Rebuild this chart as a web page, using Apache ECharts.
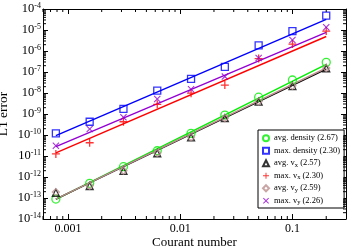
<!DOCTYPE html>
<html>
<head>
<meta charset="utf-8">
<script src="https://cdn.jsdelivr.net/npm/echarts@6/dist/echarts.min.js"></script>
<style>html,body{margin:0;padding:0;background:#fff}#c{width:349px;height:249px}</style>
</head>
<body>
<div id="c"></div>
<script>
// Courant numbers of the runs
const courant = [0.00078125, 0.0015625, 0.003125, 0.00625, 0.0125, 0.025, 0.05, 0.1, 0.2];
// L1 errors
const avgDensity = [8.91e-14, 5.01e-13, 3.09e-12, 1.78e-11, 1.20e-10, 8.91e-10, 6.31e-9, 4.17e-8, 2.88e-7];
const maxDensity = [1.20e-10, 4.27e-10, 1.74e-9, 1.29e-8, 4.68e-8, 1.74e-7, 1.86e-6, 8.91e-6, 4.79e-5];
const avgVx      = [1.78e-13, 3.72e-13, 1.95e-12, 1.35e-11, 7.76e-11, 6.31e-10, 3.89e-9, 2.14e-8, 1.51e-7];
const maxVx      = [1.26e-11, 4.27e-11, 4.27e-10, 2.88e-9, 9.77e-9, 2.40e-8, 4.37e-7, 2.14e-6, 8.91e-6];
const avgVy      = [1.91e-13, 3.80e-13, 2.00e-12, 1.38e-11, 7.94e-11, 6.46e-10, 3.98e-9, 2.19e-8, 1.55e-7];
const maxVy      = [3.09e-11, 1.95e-10, 6.92e-10, 5.13e-9, 1.51e-8, 6.03e-8, 4.68e-7, 3.31e-6, 1.35e-5];
// fitted lines (end points)
const fitX          = [0.00078125, 0.2];
const fitAvgDensity = [8.51e-14, 2.29e-7];
const fitMaxDensity = [9.33e-11, 3.24e-5];
const fitAvgVx      = [8.91e-14, 1.38e-7];
const fitMaxVx      = [1.41e-11, 4.90e-6];
const fitAvgVy      = [8.91e-14, 1.55e-7];
const fitMaxVy      = [2.82e-11, 7.76e-6];
// series names
const names = ['avg. density (2.67)', 'max. density (2.30)', 'avg. v_x (2.57)', 'max. v_x (2.30)', 'avg. v_y (2.59)', 'max. v_y (2.26)'];
// axis ticks
const xTickLabels = ['0.001', '0.01', '0.1'];
const xMinorTicks = [0.0006,0.0007,0.0008,0.0009,0.002,0.003,0.004,0.005,0.006,0.007,0.008,0.009,0.02,0.03,0.04,0.05,0.06,0.07,0.08,0.09,0.2];
const yMinorTicks = [];
const yDecades = [-14,-13,-12,-11,-10,-9,-8,-7,-6,-5];
yDecades.forEach(function(d){ [2,3,4,5,6,7,8,9].forEach(function(m){ yMinorTicks.push(m * Math.pow(10, d)); }); });

const FONT = '"Liberation Serif", "DejaVu Serif", serif';
const XMIN = 0.0006, XMAX = 0.3, YMIN = 1e-14, YMAX = 1e-4;

function pts(xs, ys){ return xs.map(function(x,i){ return [x, ys[i]]; }); }

const colors = ['#00ee00', '#0000ff', '#000000', '#ff0000', '#bc8f8f', '#9400d3'];
const PLUS = 'path://M4.2,0H5.8V4.2H10V5.8H5.8V10H4.2V5.8H0V4.2H4.2Z';
const CROSS = 'path://M1.1,0L5,3.9L8.9,0L10,1.1L6.1,5L10,8.9L8.9,10L5,6.1L1.1,10L0,8.9L3.9,5L0,1.1Z';
const markerData = [avgDensity, maxDensity, avgVx, maxVx, avgVy, maxVy];
const fitData = [fitAvgDensity, fitMaxDensity, fitAvgVx, fitMaxVx, fitAvgVy, fitMaxVy];
const symbols = ['circle', 'rect', 'triangle', PLUS, 'diamond', CROSS];
const sizes = [8, 7, 7, 8, 7, 7];
const hollow = [true, true, true, false, true, false];

const series = [];
// fit lines
fitData.forEach(function(f, i){
  series.push({
    type: 'line', name: 'fit ' + names[i], data: pts(fitX, f), showSymbol: false, symbol: 'none',
    lineStyle: { color: colors[i], width: 1.4 }, silent: true, animation: false, z: 2
  });
});
// markers
markerData.forEach(function(d, i){
  series.push({
    type: 'scatter', name: names[i], data: pts(courant, d), symbol: symbols[i], symbolSize: sizes[i],
    itemStyle: hollow[i] ? { color: 'rgba(0,0,0,0)', borderColor: colors[i], borderWidth: 1.3 } : { color: colors[i] },
    animation: false, z: 3
  });
});
// minor ticks (log 2..9)
series.push({
  type: 'custom', name: 'xminor', silent: true, animation: false, z: 5,
  data: xMinorTicks.map(function(v){ return [v, YMIN]; }),
  clip: false,
  renderItem: function(params, api){
    const b = api.coord([api.value(0), YMIN]);
    const t = api.coord([api.value(0), YMAX]);
    return { type: 'group', children: [
      { type: 'line', shape: { x1: b[0], y1: b[1], x2: b[0], y2: b[1] - 3 }, style: { stroke: '#000', lineWidth: 1 } },
      { type: 'line', shape: { x1: t[0], y1: t[1], x2: t[0], y2: t[1] + 3 }, style: { stroke: '#000', lineWidth: 1 } }
    ]};
  }
});
series.push({
  type: 'custom', name: 'yminor', silent: true, animation: false, z: 5,
  data: yMinorTicks.map(function(v){ return [XMIN, v]; }),
  clip: false,
  renderItem: function(params, api){
    const l = api.coord([XMIN, api.value(1)]);
    const r = api.coord([XMAX, api.value(1)]);
    return { type: 'group', children: [
      { type: 'line', shape: { x1: l[0], y1: l[1], x2: l[0] + 3, y2: l[1] }, style: { stroke: '#000', lineWidth: 1 } },
      { type: 'line', shape: { x1: r[0], y1: r[1], x2: r[0] - 3, y2: r[1] }, style: { stroke: '#000', lineWidth: 1 } }
    ]};
  }
});

const axisLine = { show: true, onZero: false, lineStyle: { color: '#000', width: 1 } };
const axisTick = { show: true, inside: true, length: 5, lineStyle: { color: '#000' } };

const option = {
  backgroundColor: '#fff',
  animation: false,
  grid: { left: 43, top: 9, right: 3, bottom: 30, containLabel: false, outerBoundsMode: 'none' },
  xAxis: [{
    type: 'log', logBase: 10, min: XMIN, max: XMAX,
    name: 'Courant number', nameLocation: 'middle', nameGap: 17, nameMoveOverlap: false,
    nameTextStyle: { fontFamily: FONT, fontSize: 13, color: '#000' },
    axisLine: axisLine, axisTick: axisTick, splitLine: { show: false },
    axisLabel: { color: '#000', fontFamily: FONT, fontSize: 12, margin: 4, showMinLabel: false, showMaxLabel: false,
      formatter: function(v){ const e = Math.round(Math.log10(v)); const i = e + 3; return (Math.abs(Math.log10(v) - e) < 1e-6 && xTickLabels[i]) ? xTickLabels[i] : ''; } }
  }, {
    type: 'log', logBase: 10, min: XMIN, max: XMAX, position: 'top',
    axisLine: axisLine, axisTick: axisTick, splitLine: { show: false }, axisLabel: { show: false }
  }],
  yAxis: [{
    type: 'log', logBase: 10, min: YMIN, max: YMAX, interval: 1,
    name: 'L1 error', nameLocation: 'middle', nameGap: 33, nameMoveOverlap: false,
    nameTextStyle: { fontFamily: FONT, fontSize: 13.5, color: '#000' },
    axisLine: axisLine, axisTick: axisTick, splitLine: { show: false },
    axisLabel: { color: '#000', fontFamily: FONT, margin: 2,
      formatter: function(v){ const e = Math.round(Math.log10(v)); return '{b|10}{s|' + e + '}'; },
      rich: { b: { fontFamily: FONT, fontSize: 12.5, lineHeight: 14, color: '#000' },
              s: { fontFamily: FONT, fontSize: 8, lineHeight: 8, verticalAlign: 'top', color: '#000' } } }
  }, {
    type: 'log', logBase: 10, min: YMIN, max: YMAX, interval: 1, position: 'right',
    axisLine: axisLine, axisTick: axisTick, splitLine: { show: false }, axisLabel: { show: false }
  }],
  legend: {
    data: names, orient: 'vertical', left: 258, top: 130,
    backgroundColor: '#fff', borderColor: '#000', borderWidth: 1, borderRadius: 0,
    padding: [3, 4, 2, 4], itemGap: 2, itemWidth: 6, itemHeight: 6, itemTextGap: 10,
    selectedMode: false,
    formatter: function(n){ return n.replace('v_x', 'v{s|x}').replace('v_y', 'v{s|y}'); },
    textStyle: { fontFamily: FONT, fontSize: 8.5, lineHeight: 10.5, color: '#000',
      rich: { s: { fontFamily: FONT, fontSize: 6.5, lineHeight: 6.5, verticalAlign: 'bottom', color: '#000' } } }
  },
  series: series
};
const chart = echarts.init(document.getElementById('c'), null, { renderer: 'canvas' });
chart.setOption(option);
</script>
</body>
</html>
